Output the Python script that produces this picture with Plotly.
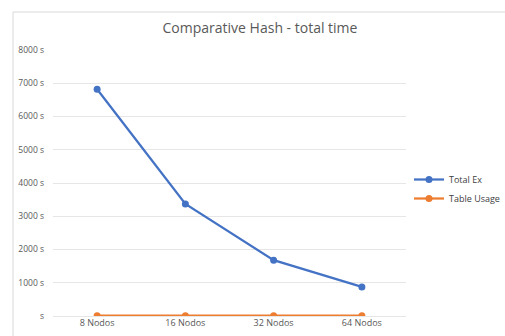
import plotly.graph_objects as go

categories = ["8 Nodos", "16 Nodos", "32 Nodos", "64 Nodos"]
total_ex = [6820, 3370, 1680, 875]
table_usage = [8, 8, 8, 8]
y_ticks = [0, 1000, 2000, 3000, 4000, 5000, 6000, 7000, 8000]
y_tick_labels = ["s", "1000 s", "2000 s", "3000 s", "4000 s", "5000 s", "6000 s", "7000 s", "8000 s"]

W, H = 505, 336
L, R, T, B = 53, 99, 50, 20
pw, ph = W - L - R, H - T - B

fig = go.Figure()
fig.add_trace(go.Scatter(x=categories, y=total_ex, name="Total Ex", mode="lines+markers",
                         line=dict(color="#4472C4", width=2.25), marker=dict(size=7, color="#4472C4")))
fig.add_trace(go.Scatter(x=categories, y=table_usage, name="Table Usage", mode="lines+markers",
                         line=dict(color="#ED7D31", width=2.25), marker=dict(size=7, color="#ED7D31")))

bx = (13 - L) / pw
by = 1 + (T - 12) / ph
fig.add_shape(type="line", xref="paper", yref="paper", x0=bx, x1=bx, y0=-0.2, y1=by,
              line=dict(color="#d9d9d9", width=1))
fig.add_shape(type="line", xref="paper", yref="paper", x0=bx, x1=1.5, y0=by, y1=by,
              line=dict(color="#d9d9d9", width=1))

fig.update_layout(
    template="none",
    width=W, height=H,
    margin=dict(l=L, r=R, t=T, b=B, autoexpand=False),
    paper_bgcolor="white", plot_bgcolor="white",
    font=dict(family="Open Sans, Liberation Sans, sans-serif", color="#595959", size=9),
    title=dict(text="Comparative Hash - total time", x=(260) / W, xanchor="center",
               y=1 - 28 / H, yanchor="middle", font=dict(size=14, color="#595959")),
    xaxis=dict(type="category", range=[-0.5, 3.5], showgrid=False, showline=False, automargin=False,
               ticks="", zeroline=False, tickfont=dict(size=9, color="#595959")),
    yaxis=dict(range=[0, 8000], tickvals=y_ticks, ticktext=y_tick_labels, showgrid=True, automargin=False,
               gridcolor="#e6e6e6", gridwidth=1, zeroline=True, zerolinecolor="#e6e6e6", zerolinewidth=1,
               showline=False, ticks="", ticklabelstandoff=8, tickfont=dict(size=8.5, color="#595959")),
    legend=dict(x=(409 - L) / pw, xanchor="left", y=(H - B - 189) / ph, yanchor="middle",
                font=dict(size=9, color="#404040"), bgcolor="rgba(0,0,0,0)", itemwidth=30,
                tracegroupgap=3),
    showlegend=True,
)

fig.write_html("out.html", config={"displayModeBar": False},
               post_script="document.body.style.margin='0';document.body.style.overflow='hidden';")
